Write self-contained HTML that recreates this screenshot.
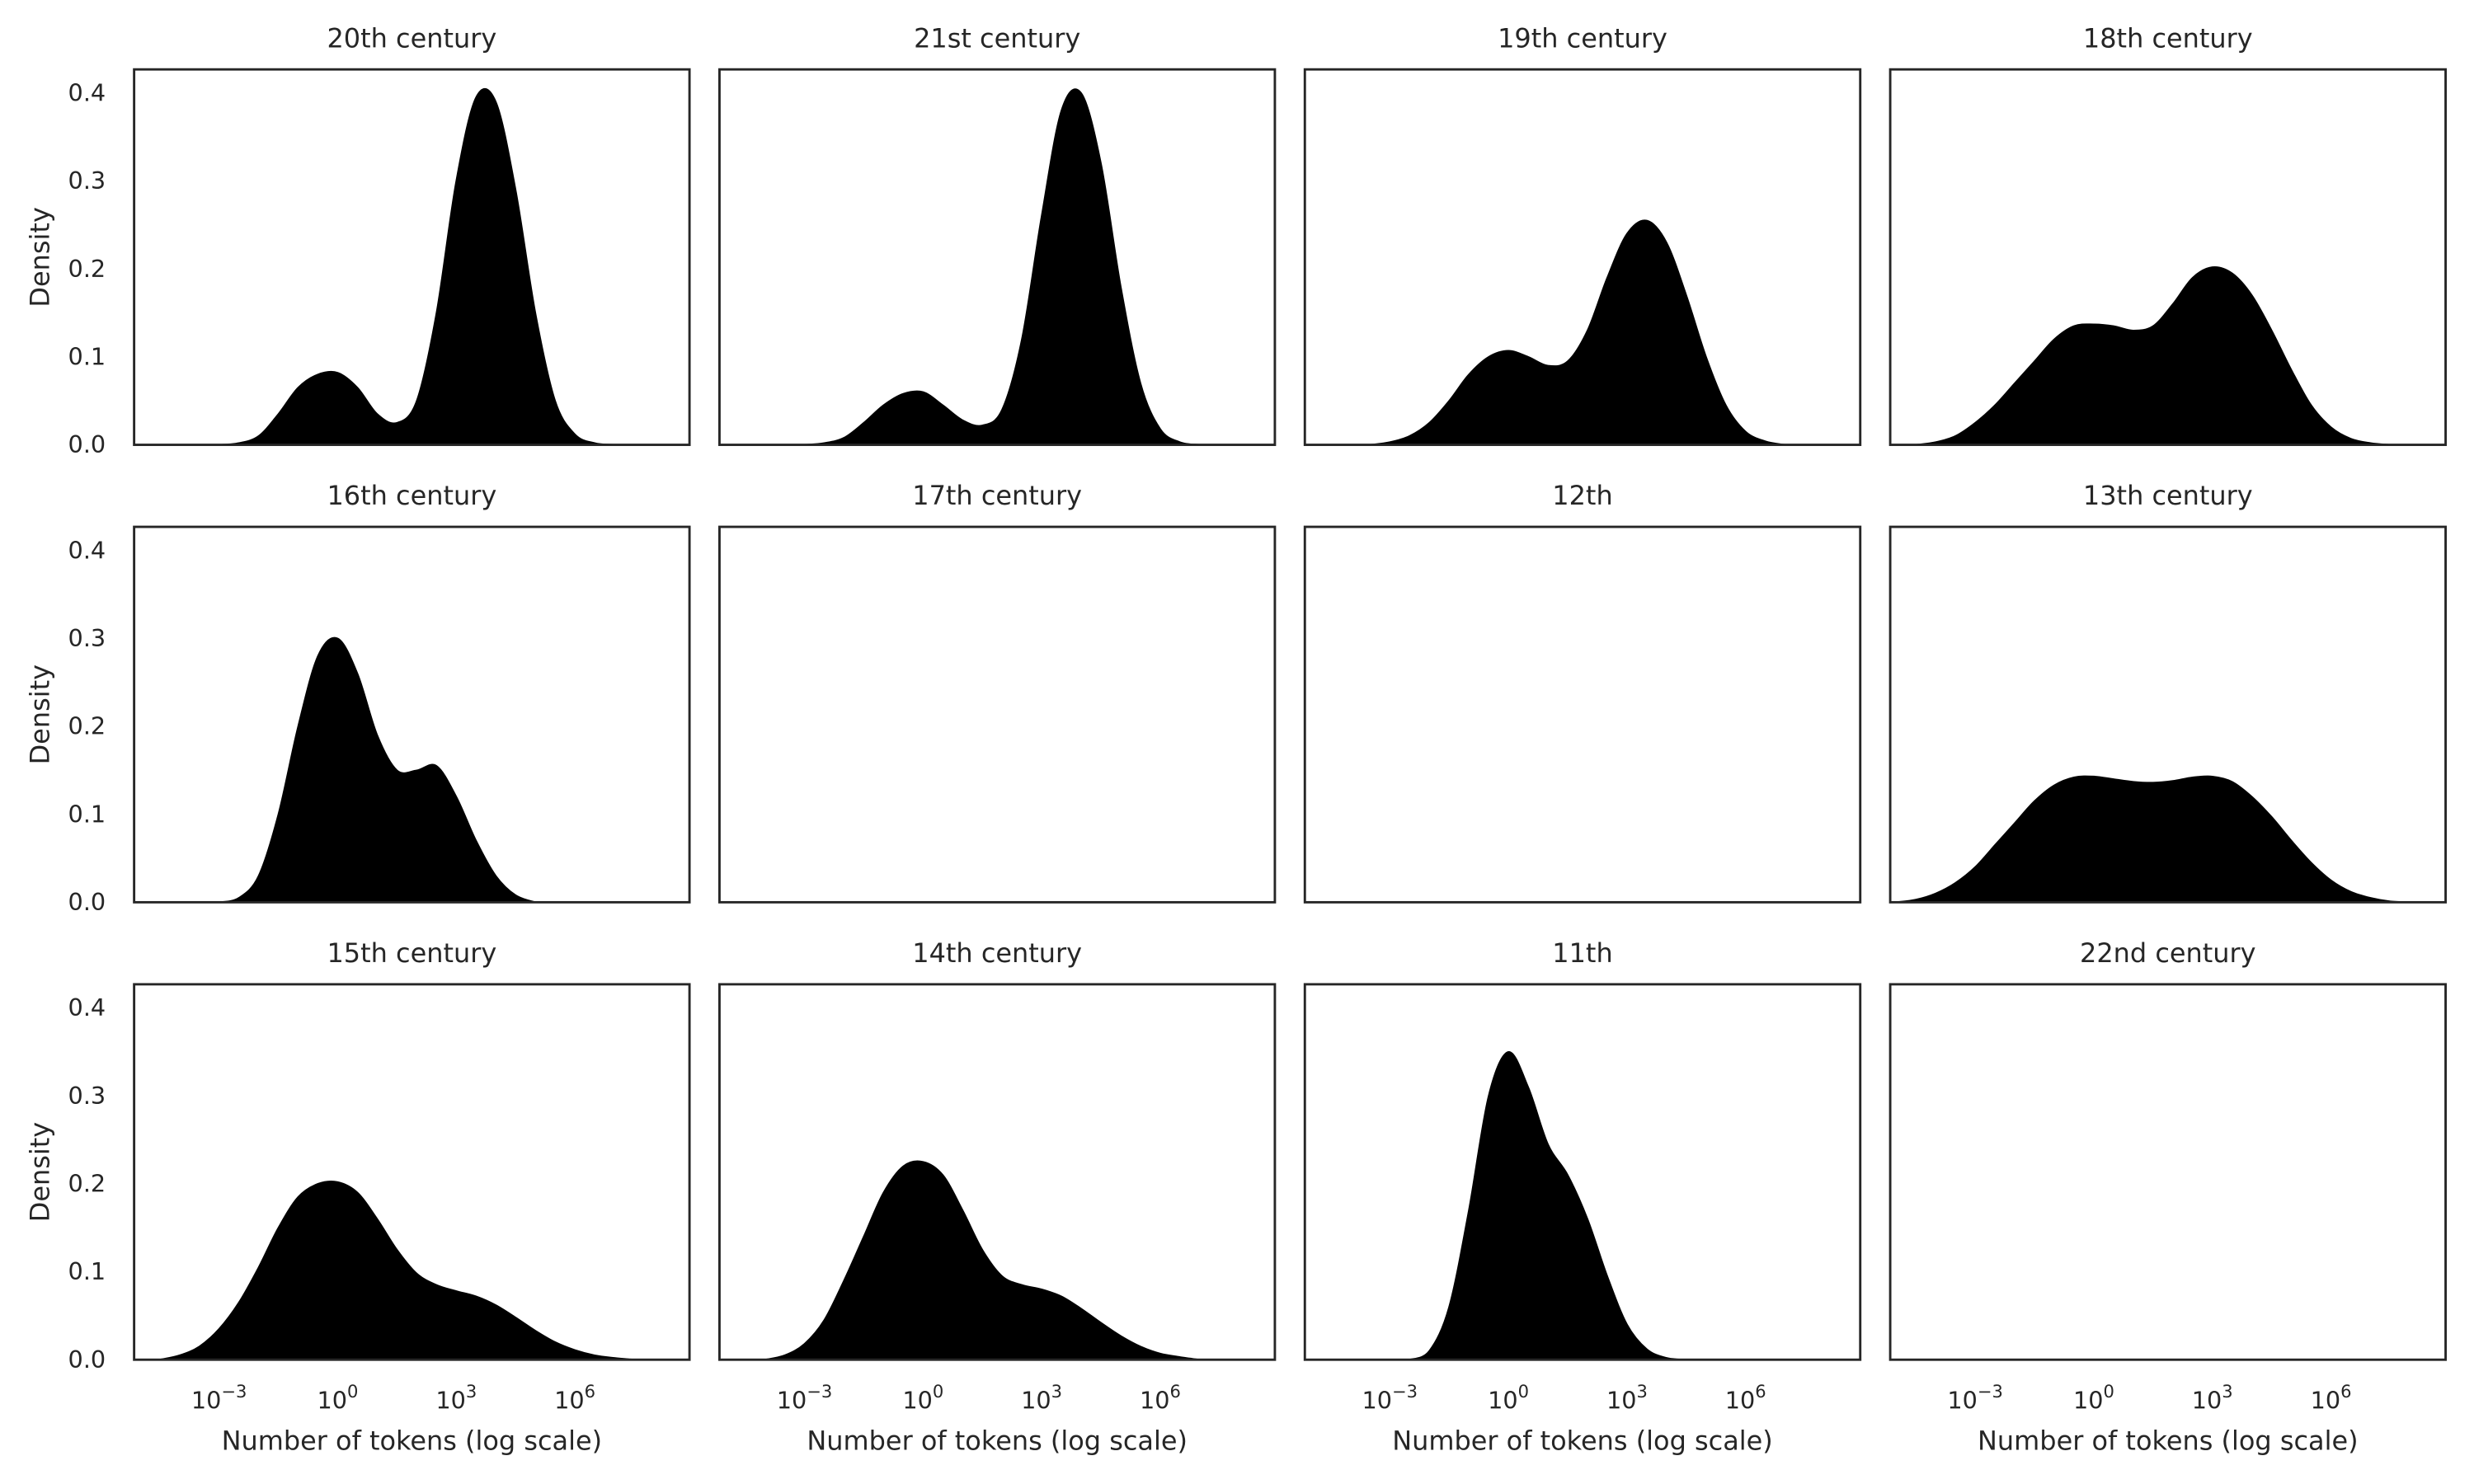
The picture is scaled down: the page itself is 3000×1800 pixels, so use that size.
<!DOCTYPE html>
<html><head><meta charset="utf-8"><style>
html,body{margin:0;padding:0;background:#fff}
svg{display:block}
text{font-family:"DejaVu Sans","Liberation Sans",sans-serif;fill:#262626}
</style></head><body>
<svg id="chart" width="3000" height="1800" viewBox="0 0 1568 940.8" xmlns="http://www.w3.org/2000/svg"></svg>
<script>
const titles = ["20th century","21st century","19th century","18th century","16th century","17th century","12th","13th century","15th century","14th century","11th","22nd century"];
const x20 = [-3,-2.5,-2,-1.5,-1,-0.5,0,0.5,1,1.5,2,2.5,3,3.5,4,4.5,5,5.5,6,6.5,7];
const y20 = [0,0.002,0.01,0.035,0.065,0.08,0.082,0.065,0.035,0.025,0.05,0.15,0.3,0.395,0.39,0.29,0.15,0.05,0.012,0.002,0];
const x21 = [-3,-2.5,-2,-1.5,-1,-0.5,0,0.5,1,1.5,2,2.5,3,3.5,4,4.5,5,5.5,6,6.5,7];
const y21 = [0,0.002,0.008,0.025,0.045,0.058,0.06,0.045,0.028,0.022,0.04,0.12,0.26,0.38,0.4,0.32,0.18,0.07,0.018,0.003,0];
const x19 = [-3.5,-3,-2.5,-2,-1.5,-1,-0.5,0,0.5,1,1.5,2,2.5,3,3.5,4,4.5,5,5.5,6,6.5,7];
const y19 = [0,0.003,0.01,0.025,0.05,0.08,0.1,0.107,0.1,0.09,0.095,0.13,0.19,0.24,0.255,0.23,0.17,0.1,0.045,0.015,0.004,0];
const x18 = [-4.5,-4,-3.5,-3,-2.5,-2,-1.5,-1,-0.5,0,0.5,1,1.5,2,2.5,3,3.5,4,4.5,5,5.5,6,6.5,7,7.5];
const y18 = [0,0.003,0.01,0.025,0.045,0.07,0.095,0.12,0.135,0.137,0.135,0.13,0.135,0.16,0.19,0.202,0.195,0.17,0.13,0.085,0.045,0.02,0.007,0.002,0];
const x16 = [-3,-2.5,-2,-1.5,-1,-0.5,0,0.5,1,1.5,2,2.5,3,3.5,4,4.5,5];
const y16 = [0,0.005,0.03,0.1,0.2,0.28,0.3,0.26,0.19,0.15,0.15,0.155,0.12,0.07,0.03,0.008,0];
const x13 = [-5,-4.5,-4,-3.5,-3,-2.5,-2,-1.5,-1,-0.5,0,0.5,1,1.5,2,2.5,3,3.5,4,4.5,5,5.5,6,6.5,7,7.5,8];
const y13 = [0,0.003,0.01,0.022,0.04,0.065,0.09,0.115,0.133,0.142,0.143,0.14,0.137,0.136,0.138,0.142,0.143,0.137,0.12,0.097,0.07,0.045,0.025,0.012,0.005,0.001,0];
const x15 = [-4.5,-4,-3.5,-3,-2.5,-2,-1.5,-1,-0.5,0,0.5,1,1.5,2,2.5,3,3.5,4,4.5,5,5.5,6,6.5,7,7.5];
const y15 = [0,0.005,0.015,0.035,0.065,0.105,0.15,0.185,0.2,0.202,0.19,0.16,0.125,0.098,0.085,0.078,0.072,0.062,0.048,0.033,0.02,0.011,0.005,0.002,0];
const x14 = [-4,-3.5,-3,-2.5,-2,-1.5,-1,-0.5,0,0.5,1,1.5,2,2.5,3,3.5,4,4.5,5,5.5,6,6.5,7];
const y14 = [0,0.005,0.018,0.045,0.09,0.14,0.19,0.22,0.225,0.21,0.17,0.125,0.095,0.085,0.08,0.072,0.058,0.042,0.027,0.015,0.007,0.003,0];
const x11 = [-2.5,-2,-1.5,-1,-0.5,0,0.5,1,1.5,2,2.5,3,3.5,4,4.5];
const y11 = [0,0.01,0.06,0.17,0.3,0.35,0.31,0.245,0.21,0.16,0.095,0.04,0.012,0.002,0];
const seriesX = [x20,x21,x19,x18,x16,null,null,x13,x15,x14,x11,null];
const seriesY = [y20,y21,y19,y18,y16,null,null,y13,y15,y14,y11,null];
const yTicks = [0,0.1,0.2,0.3,0.4];
const yTickLabels = ["0.0","0.1","0.2","0.3","0.4"];
const xTicks = [-3,0,3,6];
const xTickExp = ["\u22123","0","3","6"];

const NS="http://www.w3.org/2000/svg";
const svg=document.getElementById('chart');
const colL=[85,456,827,1198], W=352, rowT=[44,334,624], H=238;
const XMIN=-5.15, XMAX=8.9, YMAX=0.427;
function mk(t,a,p){const e=document.createElementNS(NS,t);for(const k in a)e.setAttribute(k,a[k]);(p||svg).appendChild(e);return e;}
for(let i=0;i<12;i++){
  const c=i%4, r=Math.floor(i/4), L=colL[c], T=rowT[r];
  const sx=v=>L+(v-XMIN)/(XMAX-XMIN)*W;
  const sy=v=>T+H-v/YMAX*H;
  const g=mk('g',{});
  
  
  const tt=mk('text',{x:L+W/2,y:T-14,'text-anchor':'middle','font-size':16.7},g);
  tt.textContent=titles[i];
  
  
  if(seriesX[i]){
    const xs=seriesX[i], ys=seriesY[i];
    const P=xs.map((x,k)=>[sx(x),sy(ys[k])]);
    let d='M'+P[0][0]+','+sy(0)+' L'+P[0][0]+','+P[0][1];
    for(let k=0;k<P.length-1;k++){
      const p0=P[Math.max(k-1,0)],p1=P[k],p2=P[k+1],p3=P[Math.min(k+2,P.length-1)];
      const c1=[p1[0]+(p2[0]-p0[0])/6,p1[1]+(p2[1]-p0[1])/6];
      const c2=[p2[0]-(p3[0]-p1[0])/6,p2[1]-(p3[1]-p1[1])/6];
      d+=` C${c1[0]},${Math.min(c1[1],sy(0))} ${c2[0]},${Math.min(c2[1],sy(0))} ${p2[0]},${p2[1]}`;
    }
    d+=' Z';
    const a=mk('path',{d:d,fill:'#000',stroke:'#000','stroke-width':1},g);
    
    
  }
  const fr=mk('rect',{x:L,y:T,width:W,height:H,fill:'none',stroke:'#262626','stroke-width':1.5},g);
  
  
  if(c===0){
    yTicks.forEach((v,k)=>{
      const t=mk('text',{x:L-18,y:sy(v)+5,'text-anchor':'end','font-size':15},g);
      t.textContent=yTickLabels[k];
      
      
    });
    const yl=mk('text',{x:0,y:0,'text-anchor':'middle','font-size':16.7,transform:`translate(31,${T+H/2}) rotate(-90)`},g);
    yl.textContent='Density';
    
    
  }
  if(r===2){
    xTicks.forEach((v,k)=>{
      const t=mk('text',{x:sx(v),y:T+H+31,'text-anchor':'middle','font-size':15},g);
      t.textContent='10';
      const s=mk('tspan',{dy:-7,'font-size':11},t);
      s.textContent=xTickExp[k];
      
      
    });
    const xl=mk('text',{x:L+W/2,y:T+H+57,'text-anchor':'middle','font-size':16.7},g);
    xl.textContent='Number of tokens (log scale)';
    
    
  }
}
</script>
</body></html>
